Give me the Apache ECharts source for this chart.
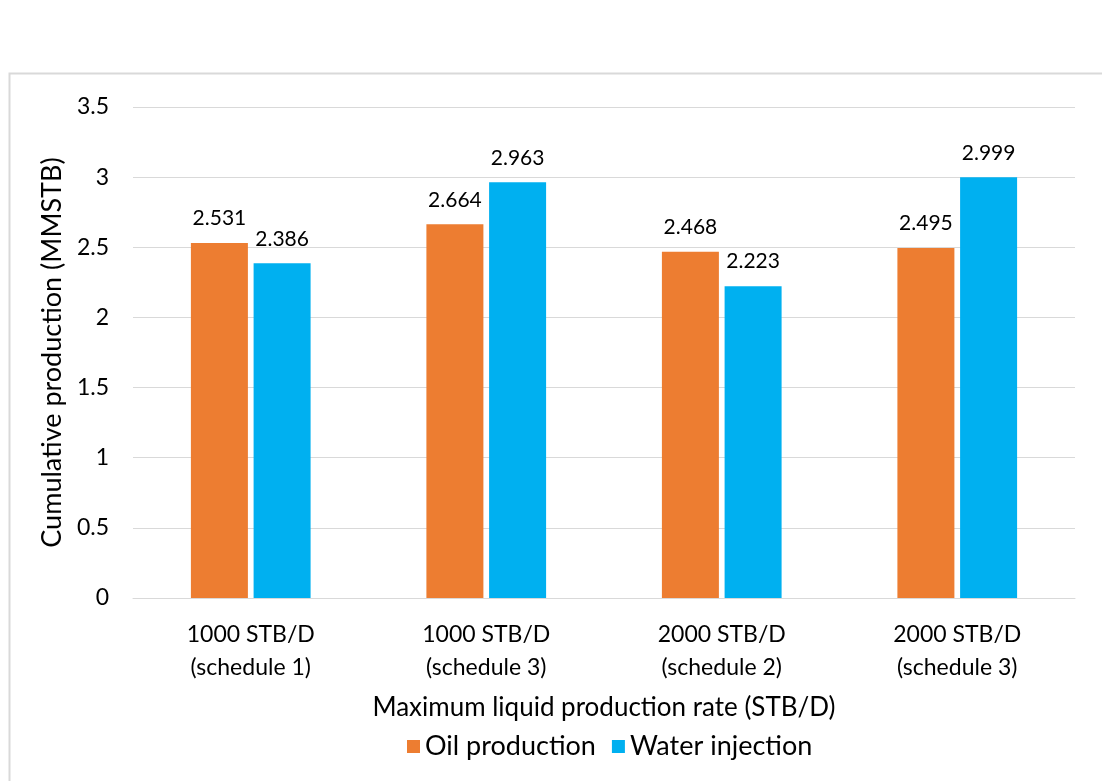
<!DOCTYPE html>
<html>
<head>
<meta charset="utf-8">
<script src="https://cdn.jsdelivr.net/npm/echarts@6/dist/echarts.min.js"></script>
<style>
	html, body { margin: 0; padding: 0; background: #fff; }
	#chart { width: 1102px; height: 781px; }
</style>
</head>
<body>
<div id="chart"></div>
<script>
const categories = [
	'1000 STB/D\n(schedule 1)',
	'1000 STB/D\n(schedule 3)',
	'2000 STB/D\n(schedule 2)',
	'2000 STB/D\n(schedule 3)',
];
const oilProduction = [2.531, 2.664, 2.468, 2.495];
const waterInjection = [2.386, 2.963, 2.223, 2.999];
const yTicks = [0, 0.5, 1, 1.5, 2, 2.5, 3, 3.5];

const font = 'Lato';
const grey = '#d9d9d9';

const chart = echarts.init(document.getElementById('chart'), null, {renderer: 'canvas'});

const barLabel = {
	show: true,
	position: 'top',
	distance: 14,
	color: '#000',
	fontFamily: font,
	fontSize: 21,
	formatter: p => p.value.toFixed(3),
};

chart.setOption({
	animation: false,
	textStyle: { fontFamily: font },
	graphic: [{
		type: 'rect',
		shape: { x: 9.5, y: 73.5, width: 1200, height: 800 },
		style: { fill: 'none', stroke: grey, lineWidth: 2 },
		silent: true,
	}],
	grid: { left: 133, right: 27, top: 107, bottom: 183 },
	legend: {
		bottom: 16,
		left: 402,
		itemWidth: 13,
		itemHeight: 13,
		itemGap: 16,
		icon: 'rect',
		textStyle: { fontSize: 27, color: '#000', fontFamily: font },
		data: ['Oil production', 'Water injection'],
	},
	xAxis: {
		type: 'category',
		data: categories,
		name: 'Maximum liquid production rate (STB/D)',
		nameLocation: 'middle',
		nameGap: 97,
		nameTextStyle: { fontSize: 26, color: '#000', fontFamily: font },
		axisLine: { lineStyle: { color: grey, width: 1 } },
		axisTick: { show: false },
		axisLabel: { color: '#000', fontSize: 23, lineHeight: 33, margin: 20, fontFamily: font },
	},
	yAxis: {
		type: 'value',
		min: yTicks[0],
		max: yTicks[yTicks.length - 1],
		interval: 0.5,
		name: 'Cumulative production (MMSTB)',
		nameLocation: 'middle',
		nameGap: 67,
		nameTextStyle: { fontSize: 27, color: '#000', fontFamily: font },
		axisLine: { show: false },
		axisTick: { show: false },
		axisLabel: { color: '#000', fontSize: 23, margin: 24, fontFamily: font },
		splitLine: { lineStyle: { color: grey, width: 1 } },
	},
	series: [
		{
			name: 'Oil production',
			type: 'bar',
			data: oilProduction,
			barWidth: 57,
			barGap: '10%',
			itemStyle: { color: '#ed7d31' },
			label: barLabel,
		},
		{
			name: 'Water injection',
			type: 'bar',
			data: waterInjection,
			barWidth: 57,
			itemStyle: { color: '#00b0f0' },
			label: barLabel,
		},
	],
});
</script>
</body>
</html>
